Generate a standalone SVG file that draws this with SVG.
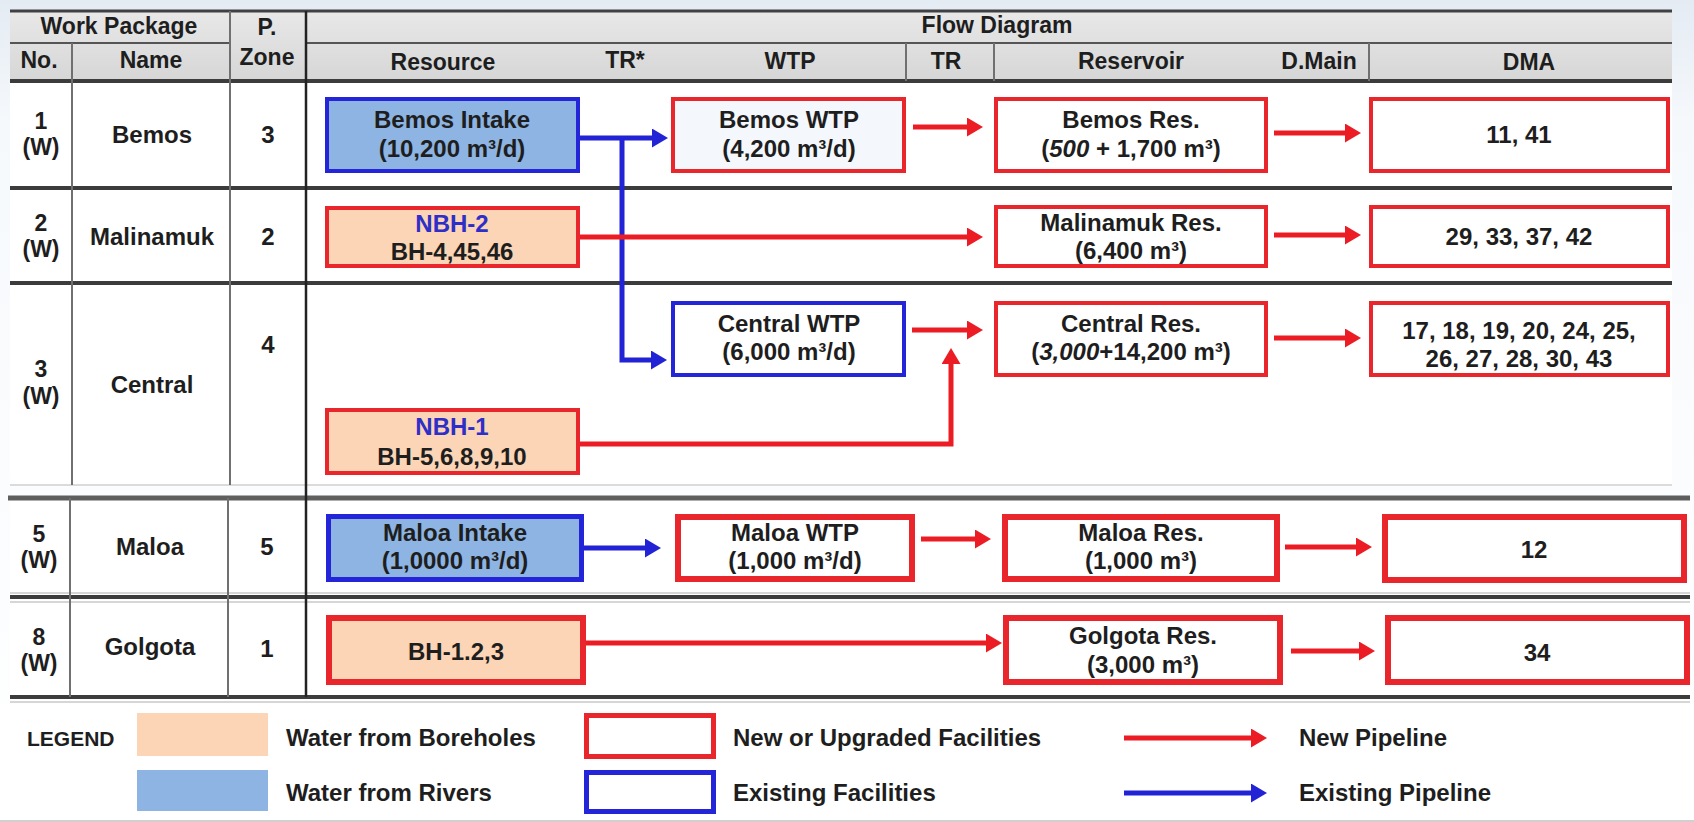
<svg xmlns="http://www.w3.org/2000/svg" width="1694" height="822" viewBox="0 0 1694 822">
<defs>
<linearGradient id="hdr" x1="0" y1="0" x2="0" y2="1"><stop offset="0" stop-color="#E8E8E8"/><stop offset="1" stop-color="#D6D6D6"/></linearGradient>
<linearGradient id="bg" x1="0" y1="0" x2="0" y2="1"><stop offset="0" stop-color="#E4EBF3"/><stop offset="0.15" stop-color="#F6F9FC"/><stop offset="1" stop-color="#FFFFFF"/></linearGradient>
<marker id="ar" markerUnits="userSpaceOnUse" markerWidth="16" markerHeight="19" refX="6" refY="9.5" orient="auto"><path d="M0,0 L16,9.5 L0,19 z" fill="#EC1C24"/></marker>
<marker id="ab" markerUnits="userSpaceOnUse" markerWidth="16" markerHeight="19" refX="6" refY="9.5" orient="auto"><path d="M0,0 L16,9.5 L0,19 z" fill="#2323D6"/></marker>
<style>
text{font-family:"Liberation Sans",Arial,sans-serif;font-weight:700;fill:#1E1E1E;font-size:24px;text-anchor:middle}
.h{font-size:23px}
.n{font-size:23px}
.l{text-anchor:start}
.lg{font-size:21px;text-anchor:start}
.nb{fill:#2E2EC8}
.it{font-style:italic}
.red{fill:#FFFFFF;stroke:#E8262B;stroke-width:4}
.red6{fill:#FFFFFF;stroke:#E8262B;stroke-width:6}
.blue{fill:#FFFFFF;stroke:#2424D8;stroke-width:4}
.riv{fill:#8DB4E2;stroke:#2424D8;stroke-width:4}
.bor{fill:#FBD5B5;stroke:#E8262B;stroke-width:4}
.pr{fill:none;stroke:#EC1C24;stroke-width:5;marker-end:url(#ar)}
.pb{fill:none;stroke:#2323D6;stroke-width:5;marker-end:url(#ab)}
.hl{stroke:#3C3C3C;stroke-width:4}
.vl{stroke:#707070;stroke-width:2}
</style>
</defs>
<rect x="0" y="0" width="1694" height="822" fill="url(#bg)"/>
<rect x="10" y="81" width="1662" height="404" fill="#FFFFFF"/>
<rect x="10" y="498" width="1680" height="199" fill="#FFFFFF"/>
<rect x="0" y="704" width="1694" height="117" fill="#FFFFFF"/>
<rect x="10" y="11" width="1662" height="70" fill="url(#hdr)"/>

<g id="grid">
<line x1="10" y1="11" x2="1672" y2="11" stroke="#404040" stroke-width="3"/>
<line x1="10" y1="43" x2="230" y2="43" stroke="#555" stroke-width="2"/>
<line x1="306" y1="43" x2="1672" y2="43" stroke="#555" stroke-width="2"/>
<line x1="10" y1="81" x2="1672" y2="81" class="hl"/>
<line x1="10" y1="188" x2="1672" y2="188" class="hl"/>
<line x1="10" y1="283" x2="1672" y2="283" class="hl"/>
<line x1="10" y1="485" x2="1672" y2="485" stroke="#CFCFCF" stroke-width="1.5"/>
<line x1="8" y1="498" x2="1690" y2="498" stroke="#5E5E5E" stroke-width="5"/>
<line x1="10" y1="593" x2="1690" y2="593" stroke="#C8C8C8" stroke-width="1.5"/>
<line x1="10" y1="597" x2="1690" y2="597" class="hl"/>
<line x1="10" y1="602" x2="1690" y2="602" stroke="#C8C8C8" stroke-width="1.5"/>
<line x1="10" y1="697" x2="1690" y2="697" class="hl"/>
<line x1="10" y1="702" x2="1690" y2="702" stroke="#C8C8C8" stroke-width="1.5"/>
<line x1="0" y1="821" x2="1694" y2="821" stroke="#D0D0D0" stroke-width="2"/>
<line x1="72" y1="43" x2="72" y2="485" class="vl"/>
<line x1="70" y1="498" x2="70" y2="697" class="vl"/>
<line x1="230" y1="11" x2="230" y2="485" class="vl"/>
<line x1="228" y1="498" x2="228" y2="697" class="vl"/>
<line x1="306" y1="11" x2="306" y2="697" stroke="#222" stroke-width="2.5"/>
<line x1="906" y1="43" x2="906" y2="81" class="vl"/>
<line x1="994" y1="43" x2="994" y2="81" class="vl"/>
<line x1="1369" y1="43" x2="1369" y2="81" class="vl"/>
</g>

<g id="header">
<text x="119" y="34" class="h">Work Package</text>
<text x="267" y="35" class="h">P.</text>
<text x="997" y="33" class="h">Flow Diagram</text>
<text x="39" y="68" class="h">No.</text>
<text x="151" y="68" class="h">Name</text>
<text x="267" y="65" class="h">Zone</text>
<text x="443" y="70" class="h">Resource</text>
<text x="625" y="68" class="h">TR*</text>
<text x="790" y="69" class="h">WTP</text>
<text x="946" y="69" class="h">TR</text>
<text x="1131" y="69" class="h">Reservoir</text>
<text x="1319" y="69" class="h">D.Main</text>
<text x="1529" y="70" class="h">DMA</text>
</g>

<g id="row-labels">
<text x="41" y="129" class="n">1</text><text x="41" y="155" class="n">(W)</text>
<text x="152" y="143">Bemos</text><text x="268" y="143">3</text>
<text x="41" y="231" class="n">2</text><text x="41" y="257" class="n">(W)</text>
<text x="152" y="245">Malinamuk</text><text x="268" y="245">2</text>
<text x="41" y="377" class="n">3</text><text x="41" y="404" class="n">(W)</text>
<text x="152" y="393">Central</text><text x="268" y="353">4</text>
<text x="39" y="542" class="n">5</text><text x="39" y="568" class="n">(W)</text>
<text x="150" y="555">Maloa</text><text x="267" y="555">5</text>
<text x="39" y="645" class="n">8</text><text x="39" y="671" class="n">(W)</text>
<text x="150" y="655">Golgota</text><text x="267" y="657">1</text>
</g>

<g id="connectors">
<path class="pb" d="M580,138 H658"/>
<path class="pb" d="M622,138 V360 H657"/>
<path class="pr" d="M913,127 H973"/>
<path class="pr" d="M1274,133 H1351"/>
<path class="pr" d="M580,237 H973"/>
<path class="pr" d="M1274,235 H1351"/>
<path class="pr" d="M912,330 H973"/>
<path class="pr" d="M1274,338 H1351"/>
<path class="pr" d="M580,444 H951 V358"/>
<path class="pb" d="M584,548 H651"/>
<path class="pr" d="M921,539 H981"/>
<path class="pr" d="M1285,547 H1362"/>
<path class="pr" d="M586,643 H992"/>
<path class="pr" d="M1291,651 H1365"/>
</g>

<g id="bemos-intake"><rect x="327" y="99" width="251" height="72" class="riv"/><text x="452" y="128">Bemos Intake</text><text x="452" y="157">(10,200 m³/d)</text></g>
<g id="bemos-wtp"><rect x="673" y="99" width="231" height="72" class="red" style="fill:#F4F8FC"/><text x="789" y="128">Bemos WTP</text><text x="789" y="157">(4,200 m³/d)</text></g>
<g id="bemos-res"><rect x="996" y="99" width="270" height="72" class="red"/><text x="1131" y="128">Bemos Res.</text><text x="1131" y="157">(<tspan class="it">500</tspan> + 1,700 m³)</text></g>
<g id="dma-bemos"><rect x="1371" y="99" width="297" height="72" class="red"/><text x="1519" y="143">11, 41</text></g>

<g id="nbh-2"><rect x="327" y="208" width="251" height="58" class="bor"/><text x="452" y="232" class="nb">NBH-2</text><text x="452" y="260">BH-4,45,46</text></g>
<g id="malinamuk-res"><rect x="996" y="207" width="270" height="59" class="red"/><text x="1131" y="231">Malinamuk Res.</text><text x="1131" y="259">(6,400 m³)</text></g>
<g id="dma-malinamuk"><rect x="1371" y="207" width="297" height="59" class="red"/><text x="1519" y="245">29, 33, 37, 42</text></g>

<g id="central-wtp"><rect x="673" y="303" width="231" height="72" class="blue"/><text x="789" y="332">Central WTP</text><text x="789" y="360">(6,000 m³/d)</text></g>
<g id="central-res"><rect x="996" y="303" width="270" height="72" class="red"/><text x="1131" y="332">Central Res.</text><text x="1131" y="360">(<tspan class="it">3,000</tspan>+14,200 m³)</text></g>
<g id="dma-central"><rect x="1371" y="303" width="297" height="72" class="red"/><text x="1519" y="339">17, 18, 19, 20, 24, 25,</text><text x="1519" y="367">26, 27, 28, 30, 43</text></g>
<g id="nbh-1"><rect x="327" y="410" width="251" height="63" class="bor"/><text x="452" y="435" class="nb">NBH-1</text><text x="452" y="465">BH-5,6,8,9,10</text></g>

<g id="maloa-intake"><rect x="328.5" y="516.5" width="253" height="63" class="riv" style="stroke-width:5"/><text x="455" y="541">Maloa Intake</text><text x="455" y="569">(1,0000 m³/d)</text></g>
<g id="maloa-wtp"><rect x="678" y="517" width="234" height="62" class="red6"/><text x="795" y="541">Maloa WTP</text><text x="795" y="569">(1,000 m³/d)</text></g>
<g id="maloa-res"><rect x="1005" y="517" width="272" height="62" class="red6"/><text x="1141" y="541">Maloa Res.</text><text x="1141" y="569">(1,000 m³)</text></g>
<g id="dma-maloa"><rect x="1385" y="517" width="299" height="63" class="red6"/><text x="1534" y="558">12</text></g>

<g id="golgota-bh"><rect x="329" y="618" width="254" height="64" class="bor" style="stroke-width:6"/><text x="456" y="660">BH-1.2,3</text></g>
<g id="golgota-res"><rect x="1006" y="618" width="274" height="64" class="red6"/><text x="1143" y="644">Golgota Res.</text><text x="1143" y="673">(3,000 m³)</text></g>
<g id="dma-golgota"><rect x="1388" y="618" width="299" height="64" class="red6"/><text x="1537" y="661">34</text></g>

<g id="legend">
<text x="27" y="746" class="lg">LEGEND</text>
<rect x="137" y="713" width="131" height="43" fill="#FBD5B5"/>
<rect x="137" y="770" width="131" height="41" fill="#8DB4E2"/>
<text x="286" y="746" class="l">Water from Boreholes</text>
<text x="286" y="801" class="l">Water from Rivers</text>
<rect x="586.5" y="715.5" width="127" height="41" fill="#FFFFFF" stroke="#E8262B" stroke-width="5"/>
<rect x="586.5" y="772.5" width="127" height="39" fill="#FFFFFF" stroke="#2424D8" stroke-width="5"/>
<text x="733" y="746" class="l">New or Upgraded Facilities</text>
<text x="733" y="801" class="l">Existing Facilities</text>
<path class="pr" d="M1124,738 H1257"/>
<path class="pb" d="M1124,793 H1257"/>
<text x="1299" y="746" class="l">New Pipeline</text>
<text x="1299" y="801" class="l">Existing Pipeline</text>
</g>
</svg>
